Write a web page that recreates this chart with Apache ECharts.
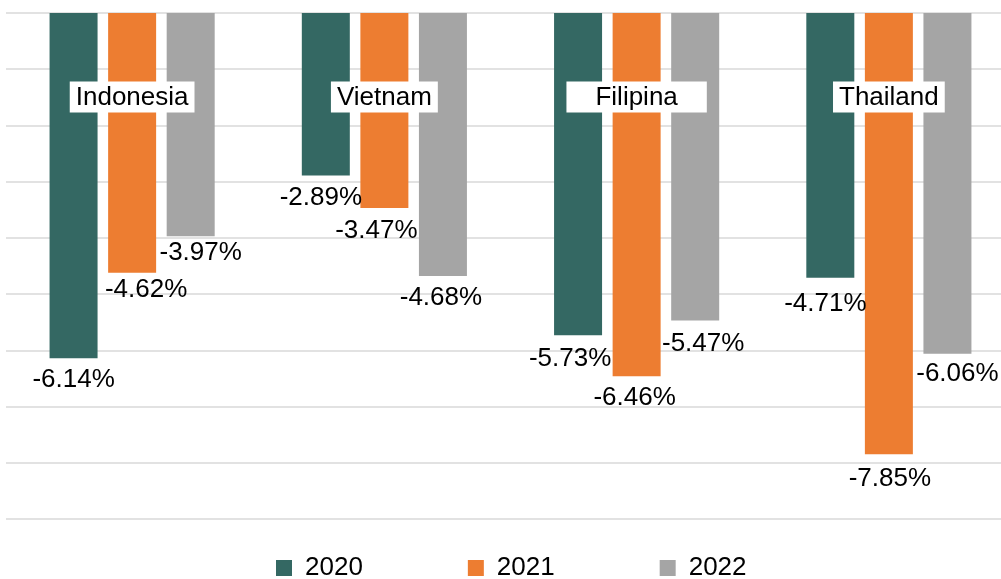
<!DOCTYPE html>
<html>
<head>
<meta charset="utf-8">
<script src="https://cdn.jsdelivr.net/npm/echarts@6/dist/echarts.min.js"></script>
<style>
html, body { margin: 0; padding: 0; background: #fff; }
#chart { width: 1001px; height: 579px; }
</style>
</head>
<body>
<div id="chart"></div>
<script>
var countries = ['Indonesia', 'Vietnam', 'Filipina', 'Thailand'];
var years = ['2020', '2021', '2022'];
var y2020 = [-6.14, -2.89, -5.73, -4.71];
var y2021 = [-4.62, -3.47, -6.46, -7.85];
var y2022 = [-3.97, -4.68, -5.47, -6.06];

var colors = ['#346863', '#ED7D31', '#A5A5A5'];
// small nudges of the data labels, like the original where they avoid each other
var labelShift = [
	[[0, 0], [-5, 0], [-8, 2], [-5, 4]],
	[[14, -5], [-8, 1], [-2, 0], [1, 2]],
	[[10, -5], [-2, 0], [8, 1], [10, -2]]
];
var font = 'Liberation Sans, Arial, sans-serif';

function getSerial(_data, _idx) {
	var _items = [];
	for(var i = 0; i < _data.length; i++) {
		_items.push({
			value: _data[i],
			label: { offset: labelShift[_idx][i] }
		});
	}
	return {
		name: years[_idx],
		type: 'bar',
		barWidth: 48,
		barGap: '22%',
		itemStyle: { color: colors[_idx] },
		label: {
			show: true,
			position: 'bottom',
			distance: 9,
			color: '#000',
			fontFamily: font,
			fontSize: 26,
			lineHeight: 26,
			formatter: function(p) {
				return p.value.toFixed(2) + '%';
			}
		},
		data: _items
	};
}

var chart = echarts.init(document.getElementById('chart'));
chart.setOption({
	animation: false,
	textStyle: { fontFamily: font },
	grid: { left: 6, top: 13, width: 1009, height: 506, outerBoundsMode: 'none' },
	legend: {
		left: 276,
		top: 555,
		padding: 0,
		itemWidth: 16,
		itemHeight: 16,
		itemGap: 105,
		icon: 'rect',
		textStyle: { fontSize: 26, lineHeight: 26, color: '#000', fontFamily: font, padding: [0, 0, 0, 8] },
		data: years
	},
	xAxis: {
		type: 'category',
		position: 'top',
		data: countries,
		z: 10,
		axisLine: { show: false },
		axisTick: { show: false },
		axisLabel: {
			inside: true,
			margin: 71,
			formatter: function(v) {
				return '{' + (v == 'Filipina' ? 'w' : 'n') + '|' + v + '}';
			},
			rich: {
				n: { backgroundColor: '#fff', padding: [3, 6, 2, 6], fontSize: 26, lineHeight: 26, color: '#000', fontFamily: font },
				w: { backgroundColor: '#fff', padding: [3, 29, 2, 29], fontSize: 26, lineHeight: 26, color: '#000', fontFamily: font }
			}
		}
	},
	yAxis: {
		type: 'value',
		min: -9,
		max: 0,
		interval: 1,
		axisLabel: { show: false },
		axisLine: { show: false },
		axisTick: { show: false },
		splitLine: { lineStyle: { color: '#d9d9d9', width: 1.5 } }
	},
	series: [getSerial(y2020, 0), getSerial(y2021, 1), getSerial(y2022, 2)]
});
</script>
</body>
</html>
